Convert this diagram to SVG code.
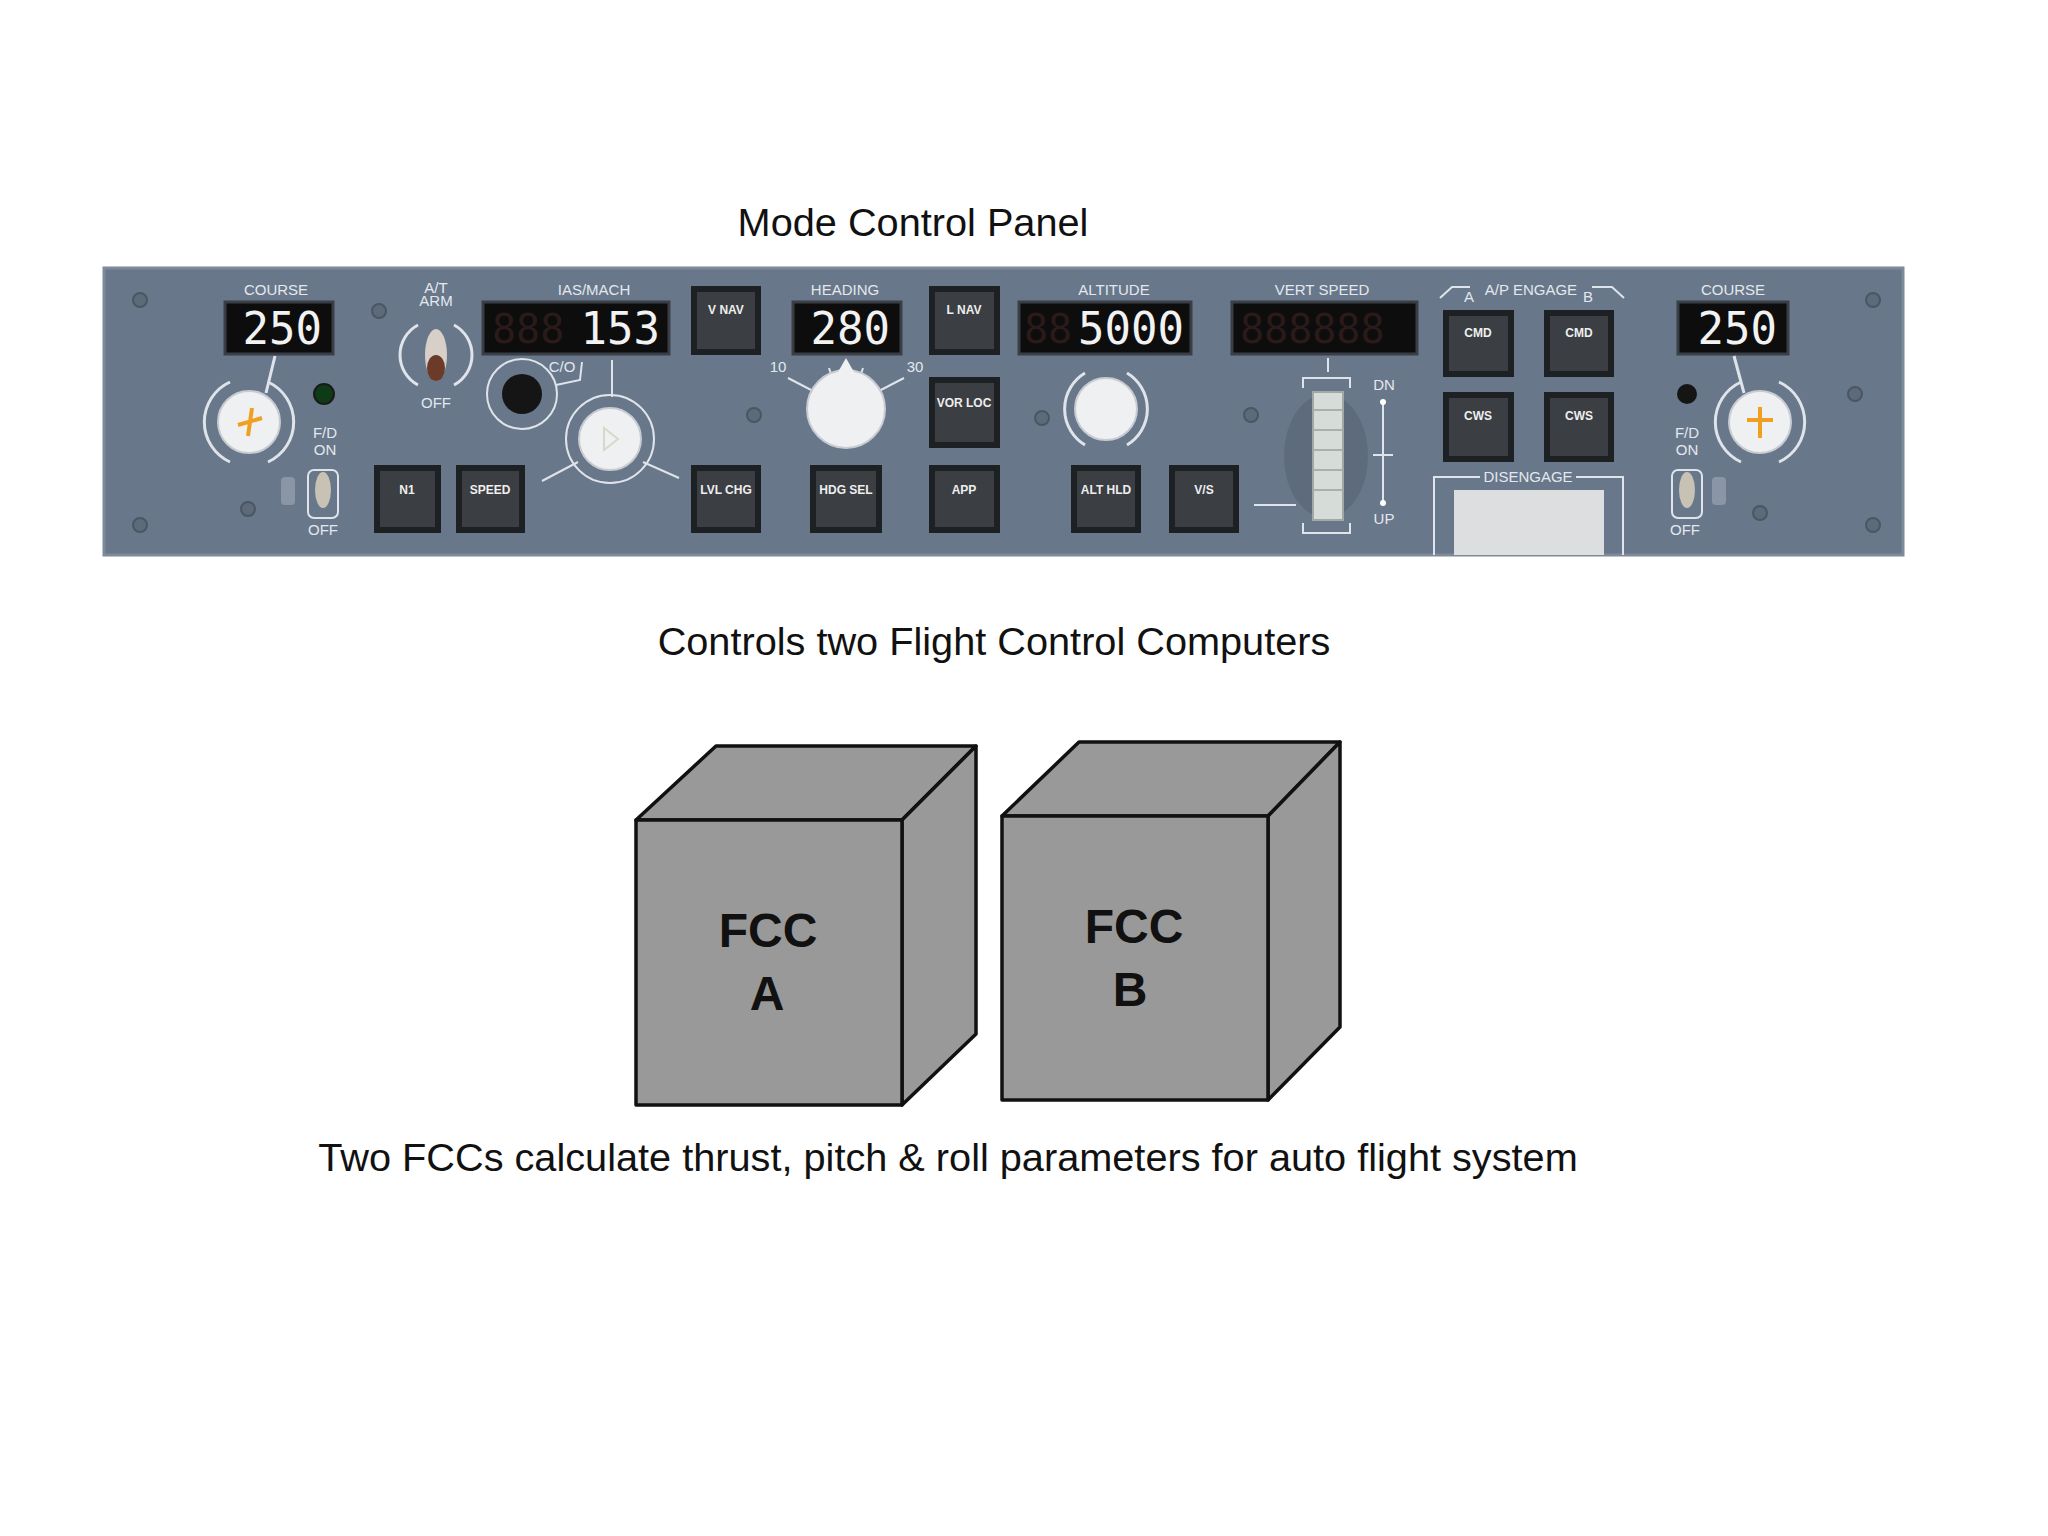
<svg xmlns="http://www.w3.org/2000/svg" width="2048" height="1536" viewBox="0 0 2048 1536">
<style>
.cap{font-family:"Liberation Sans",Arial,sans-serif;font-size:39.7px;fill:#111;text-anchor:middle}
.lbl{font-family:"Liberation Sans",Arial,sans-serif;font-size:15px;fill:#e4e8ee;text-anchor:middle}
.btn{fill:#1e2124}
.btni{fill:#3b3e42}
.bt{font-family:"Liberation Sans",Arial,sans-serif;font-size:12px;font-weight:bold;fill:#eee;text-anchor:middle}
.disp{fill:#0d0d0d;stroke:#3a3f46;stroke-width:3}
.dig{font-family:"DejaVu Sans Mono",monospace;font-size:44px;fill:#f2f2f2;text-anchor:end}
.dim{font-family:"DejaVu Sans Mono",monospace;font-size:40px;fill:#2b1a1a}
.screw{fill:#5c6a7a;stroke:#4a5664;stroke-width:2}
.arc{fill:none;stroke:#dfe4ea;stroke-width:3}
.knob{fill:#eef0f2;stroke:#c8ccd2;stroke-width:2}
.cube{fill:#999;stroke:#111;stroke-width:3.5;stroke-linejoin:round}
.fcc{font-family:"Liberation Sans",Arial,sans-serif;font-size:48px;font-weight:bold;fill:#111;text-anchor:middle}
</style>
<rect width="2048" height="1536" fill="#fff"/>
<text class="cap" x="913" y="236">Mode Control Panel</text>
<g id="panel">
<rect x="104" y="268" width="1799" height="287" fill="#68778a"/>
<rect x="104" y="268" width="1799" height="287" fill="none" stroke="#7d8a9a" stroke-width="3"/>
<g class="screw">
<circle cx="140" cy="300" r="7"/><circle cx="140" cy="525" r="7"/><circle cx="379" cy="311" r="7"/><circle cx="248" cy="509" r="7"/>
<circle cx="754" cy="415" r="7"/><circle cx="1042" cy="418" r="7"/><circle cx="1251" cy="415" r="7"/><circle cx="1855" cy="394" r="7"/>
<circle cx="1760" cy="513" r="7"/><circle cx="1873" cy="300" r="7"/><circle cx="1873" cy="525" r="7"/>
</g>
<text class="lbl" x="276" y="295">COURSE</text>
<rect class="disp" x="225" y="302" width="108" height="52"/>
<text class="dig" x="322" y="344">250</text>
<line x1="275" y1="356" x2="266" y2="393" stroke="#dfe4ea" stroke-width="3"/>
<path class="arc" d="M230 382 A44 44 0 0 0 230 462"/><path class="arc" d="M268 382 A44 44 0 0 1 268 462"/>
<circle class="knob" cx="249" cy="422" r="31"/>
<path d="M238 425 L262 418 M252 408 L248 436" stroke="#f0a020" stroke-width="4"/>
<circle cx="324" cy="394" r="10" fill="#0e3a16" stroke="#1a1a1a" stroke-width="2"/>
<text class="lbl" x="325" y="438">F/D</text><text class="lbl" x="325" y="455">ON</text>
<rect x="281" y="477" width="14" height="28" rx="4" fill="#8a96a6"/>
<rect x="308" y="470" width="30" height="48" rx="6" fill="none" stroke="#dfe4ea" stroke-width="2"/>
<ellipse cx="323" cy="490" rx="8" ry="18" fill="#c8c2b4"/>
<text class="lbl" x="323" y="535">OFF</text>
<text class="lbl" x="436" y="293">A/T</text><text class="lbl" x="436" y="306" fill="#a8d8a0">ARM</text>
<path class="arc" d="M418 325 A34 34 0 0 0 418 385"/><path class="arc" d="M454 325 A34 34 0 0 1 454 385"/>
<ellipse cx="436" cy="355" rx="11" ry="26" fill="#d8d0c8"/><ellipse cx="436" cy="368" rx="9" ry="13" fill="#6b3a28"/>
<text class="lbl" x="436" y="408">OFF</text>
<text class="lbl" x="594" y="295">IAS/MACH</text>
<rect class="disp" x="483" y="302" width="186" height="52"/>
<text class="dim" x="492" y="343">888</text>
<text class="dig" x="660" y="344">153</text>
<text class="lbl" x="562" y="372">C/O</text>
<circle cx="522" cy="394" r="35" fill="none" stroke="#dfe4ea" stroke-width="2"/>
<circle cx="522" cy="394" r="20" fill="#151515"/>
<path d="M556 385 L580 380 L582 362" fill="none" stroke="#dfe4ea" stroke-width="2"/>
<line x1="612" y1="360" x2="612" y2="397" stroke="#dfe4ea" stroke-width="2"/>
<circle cx="610" cy="439" r="44" fill="none" stroke="#dfe4ea" stroke-width="2"/>
<circle class="knob" cx="610" cy="439" r="31"/>
<path d="M604 428 L618 439 L604 450 Z" fill="none" stroke="#d8d8c8" stroke-width="2"/>
<line x1="542" y1="481" x2="578" y2="462" stroke="#dfe4ea" stroke-width="2"/>
<line x1="643" y1="462" x2="679" y2="478" stroke="#dfe4ea" stroke-width="2"/>
<g id="buttons">
<rect class="btn" x="374" y="465" width="67" height="68"/><rect class="btni" x="380" y="471" width="55" height="56"/><text class="bt" x="407" y="494">N1</text>
<rect class="btn" x="456" y="465" width="69" height="68"/><rect class="btni" x="462" y="471" width="57" height="56"/><text class="bt" x="490" y="494">SPEED</text>
<rect class="btn" x="691" y="286" width="70" height="69"/><rect class="btni" x="697" y="292" width="58" height="57"/><text class="bt" x="726" y="314">V NAV</text>
<rect class="btn" x="691" y="465" width="70" height="68"/><rect class="btni" x="697" y="471" width="58" height="56"/><text class="bt" x="726" y="494">LVL CHG</text>
<rect class="btn" x="810" y="465" width="72" height="68"/><rect class="btni" x="816" y="471" width="60" height="56"/><text class="bt" x="846" y="494">HDG SEL</text>
<rect class="btn" x="929" y="286" width="71" height="69"/><rect class="btni" x="935" y="292" width="59" height="57"/><text class="bt" x="964" y="314">L NAV</text>
<rect class="btn" x="929" y="377" width="71" height="71"/><rect class="btni" x="935" y="383" width="59" height="59"/><text class="bt" x="964" y="407">VOR LOC</text>
<rect class="btn" x="929" y="465" width="71" height="68"/><rect class="btni" x="935" y="471" width="59" height="56"/><text class="bt" x="964" y="494">APP</text>
<rect class="btn" x="1071" y="465" width="70" height="68"/><rect class="btni" x="1077" y="471" width="58" height="56"/><text class="bt" x="1106" y="494">ALT HLD</text>
<rect class="btn" x="1169" y="465" width="70" height="68"/><rect class="btni" x="1175" y="471" width="58" height="56"/><text class="bt" x="1204" y="494">V/S</text>
<rect class="btn" x="1443" y="310" width="71" height="67"/><rect class="btni" x="1449" y="316" width="59" height="55"/><text class="bt" x="1478" y="337">CMD</text>
<rect class="btn" x="1544" y="310" width="70" height="67"/><rect class="btni" x="1550" y="316" width="58" height="55"/><text class="bt" x="1579" y="337">CMD</text>
<rect class="btn" x="1443" y="392" width="71" height="70"/><rect class="btni" x="1449" y="398" width="59" height="58"/><text class="bt" x="1478" y="420">CWS</text>
<rect class="btn" x="1544" y="392" width="70" height="70"/><rect class="btni" x="1550" y="398" width="58" height="58"/><text class="bt" x="1579" y="420">CWS</text>
</g>
<text class="lbl" x="845" y="295">HEADING</text>
<rect class="disp" x="793" y="302" width="108" height="52"/>
<text class="dig" x="890" y="344">280</text>
<text class="lbl" x="778" y="372">10</text><text class="lbl" x="915" y="372">30</text>
<path d="M788 378 L815 392 M904 378 L877 392 M829 368 L833 380 M863 368 L859 380" stroke="#dfe4ea" stroke-width="2"/>
<circle class="knob" cx="846" cy="409" r="39"/>
<path d="M838 372 L846 358 L854 372 Z" fill="#eef0f2"/>
<text class="lbl" x="1114" y="295">ALTITUDE</text>
<rect class="disp" x="1019" y="302" width="172" height="52"/>
<text class="dim" x="1024" y="343">88</text>
<text class="dig" x="1184" y="344">5000</text>
<path class="arc" d="M1085 373 A42 42 0 0 0 1085 445"/><path class="arc" d="M1127 373 A42 42 0 0 1 1127 445"/>
<circle class="knob" cx="1106" cy="409" r="31"/>
<text class="lbl" x="1322" y="295">VERT SPEED</text>
<rect class="disp" x="1232" y="302" width="185" height="52"/>
<text class="dim" x="1240" y="343">888888</text>
<line x1="1328" y1="358" x2="1328" y2="372" stroke="#dfe4ea" stroke-width="2"/>
<ellipse cx="1326" cy="456" rx="42" ry="62" fill="#5d6b7d"/>
<path d="M1303 388 V378 H1350 V388 M1303 523 V533 H1350 V523" fill="none" stroke="#dfe4ea" stroke-width="2"/>
<rect x="1313" y="392" width="30" height="128" fill="#d8dcd8" stroke="#a0a8a8" stroke-width="2"/>
<path d="M1313 410 H1343 M1313 430 H1343 M1313 450 H1343 M1313 470 H1343 M1313 490 H1343" stroke="#a8b0b0" stroke-width="2"/>
<line x1="1254" y1="505" x2="1296" y2="505" stroke="#dfe4ea" stroke-width="2"/>
<text class="lbl" x="1384" y="390">DN</text><text class="lbl" x="1384" y="524">UP</text>
<line x1="1383" y1="400" x2="1383" y2="505" stroke="#dfe4ea" stroke-width="2"/>
<line x1="1373" y1="455" x2="1393" y2="455" stroke="#dfe4ea" stroke-width="2"/>
<circle cx="1383" cy="402" r="3" fill="#fff"/><circle cx="1383" cy="503" r="3" fill="#fff"/>
<text class="lbl" x="1531" y="295">A/P ENGAGE</text>
<path d="M1440 298 L1452 287 H1470 M1592 287 H1612 L1624 298" fill="none" stroke="#dfe4ea" stroke-width="2"/>
<text class="lbl" x="1469" y="302" font-size="13">A</text><text class="lbl" x="1588" y="302" font-size="13">B</text>
<path d="M1434 555 V477 H1480 M1576 477 H1623 V555" fill="none" stroke="#dfe4ea" stroke-width="2"/>
<text class="lbl" x="1528" y="482" font-size="13">DISENGAGE</text>
<rect x="1454" y="490" width="150" height="65" fill="#dcdee0"/>
<text class="lbl" x="1733" y="295">COURSE</text>
<rect class="disp" x="1678" y="302" width="110" height="52"/>
<text class="dig" x="1777" y="344">250</text>
<line x1="1734" y1="356" x2="1744" y2="393" stroke="#dfe4ea" stroke-width="3"/>
<path class="arc" d="M1741 382 A44 44 0 0 0 1741 462"/><path class="arc" d="M1779 382 A44 44 0 0 1 1779 462"/>
<circle class="knob" cx="1760" cy="422" r="31"/>
<path d="M1747 420 H1773 M1760 407 V438" stroke="#f0a020" stroke-width="4"/>
<circle cx="1687" cy="394" r="10" fill="#151515"/>
<text class="lbl" x="1687" y="438">F/D</text><text class="lbl" x="1687" y="455">ON</text>
<rect x="1672" y="470" width="30" height="48" rx="6" fill="none" stroke="#dfe4ea" stroke-width="2"/>
<ellipse cx="1687" cy="490" rx="8" ry="18" fill="#c8c2b4"/>
<rect x="1712" y="477" width="14" height="28" rx="4" fill="#8a96a6"/>
<text class="lbl" x="1685" y="535">OFF</text>
</g>
<text class="cap" x="994" y="655">Controls two Flight Control Computers</text>
<g id="fccA">
<polygon class="cube" points="636,820 716,746 976,746 902,820"/>
<polygon class="cube" points="902,820 976,746 976,1034 902,1105"/>
<rect class="cube" x="636" y="820" width="266" height="285"/>
<text class="fcc" x="768" y="947">FCC</text><text class="fcc" x="767" y="1010">A</text>
</g>
<g id="fccB">
<polygon class="cube" points="1002,816 1079,742 1340,742 1268,816"/>
<polygon class="cube" points="1268,816 1340,742 1340,1027 1268,1100"/>
<rect class="cube" x="1002" y="816" width="266" height="284"/>
<text class="fcc" x="1134" y="943">FCC</text><text class="fcc" x="1130" y="1006">B</text>
</g>
<text class="cap" x="948" y="1171">Two FCCs calculate thrust, pitch &amp; roll parameters for auto flight system</text>
</svg>
